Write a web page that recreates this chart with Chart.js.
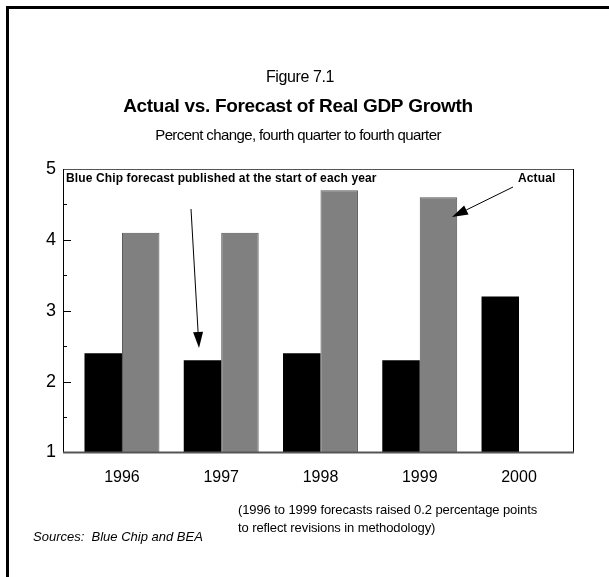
<!DOCTYPE html>
<html>
<head>
<meta charset="utf-8">
<script src="https://cdn.jsdelivr.net/npm/chart.js@4/dist/chart.umd.min.js"></script>
<style>
  html, body { margin: 0; padding: 0; background: #fff; }
  #wrap { position: relative; width: 609px; height: 577px; }
</style>
</head>
<body>
<div id="wrap"><canvas id="c" width="609" height="577"></canvas></div>
<script>
// ---- data ----
const years = [1996, 1997, 1998, 1999, 2000];
const forecast = [2.4, 2.3, 2.4, 2.3, 3.2];   // Blue Chip forecast
const actual = [4.1, 4.1, 4.7, 4.6, null];    // Actual
const yTicks = [1, 2, 3, 4, 5];

const FONT = '"Liberation Sans", Arial, sans-serif';

const decor = {
  id: 'decor',
  afterDraw(chart) {
    const { ctx, chartArea: a, scales } = chart;
    const y = scales.y;
    ctx.save();
    // page frame
    ctx.fillStyle = '#000';
    ctx.fillRect(6, 6, 603, 3);
    ctx.fillRect(6, 6, 3, 571);

    // plot frame
    ctx.lineWidth = 1;
    ctx.strokeStyle = '#555';
    ctx.beginPath();
    ctx.moveTo(a.left, a.top + 0.5); ctx.lineTo(a.right, a.top + 0.5);
    ctx.stroke();
    ctx.strokeStyle = '#000';
    ctx.beginPath();
    ctx.moveTo(a.right - 0.5, a.top); ctx.lineTo(a.right - 0.5, a.bottom);
    ctx.moveTo(a.left + 0.5, a.top); ctx.lineTo(a.left + 0.5, a.bottom);
    ctx.stroke();
    ctx.strokeStyle = '#555';
    ctx.lineWidth = 2;
    ctx.beginPath();
    ctx.moveTo(a.left, a.bottom); ctx.lineTo(a.right, a.bottom);
    ctx.stroke();

    // inner ticks on y axis
    ctx.strokeStyle = '#000';
    ctx.lineWidth = 1;
    ctx.beginPath();
    for (let v = 1.5; v < 5; v += 0.5) {
      const py = Math.round(y.getPixelForValue(v)) + 0.5;
      const len = Number.isInteger(v) ? 8 : 4;
      ctx.moveTo(a.left, py); ctx.lineTo(a.left + len, py);
    }
    ctx.stroke();

    // titles
    ctx.fillStyle = '#000';
    ctx.textAlign = 'center';
    ctx.textBaseline = 'alphabetic';
    ctx.font = '16px ' + FONT;
    ctx.letterSpacing = '-0.4px';
    ctx.fillText('Figure 7.1', 300, 82);
    ctx.font = 'bold 19px ' + FONT;
    ctx.letterSpacing = '-0.3px';
    ctx.fillText('Actual vs. Forecast of Real GDP Growth', 298, 112);
    ctx.font = '15px ' + FONT;
    ctx.letterSpacing = '-0.6px';
    ctx.fillText('Percent change, fourth quarter to fourth quarter', 298, 140);

    // annotations
    ctx.textAlign = 'left';
    ctx.font = 'bold 12px ' + FONT;
    ctx.letterSpacing = '0.12px';
    ctx.fillText('Blue Chip forecast published at the start of each year', 66, 182);
    ctx.fillText('Actual', 518, 182);

    // arrows
    function arrow(x1, y1, x2, y2) {
      const ang = Math.atan2(y2 - y1, x2 - x1);
      const L = 16, W = 5;
      ctx.strokeStyle = '#000';
      ctx.lineWidth = 1;
      ctx.beginPath();
      ctx.moveTo(x1, y1);
      ctx.lineTo(x2 - L * Math.cos(ang), y2 - L * Math.sin(ang));
      ctx.stroke();
      ctx.beginPath();
      ctx.moveTo(x2, y2);
      ctx.lineTo(x2 - L * Math.cos(ang) + W * Math.sin(ang), y2 - L * Math.sin(ang) - W * Math.cos(ang));
      ctx.lineTo(x2 - L * Math.cos(ang) - W * Math.sin(ang), y2 - L * Math.sin(ang) + W * Math.cos(ang));
      ctx.closePath();
      ctx.fill();
    }
    arrow(191, 209, 199, 348);
    arrow(513, 187, 452, 217);

    // notes
    ctx.font = '13px ' + FONT;
    ctx.letterSpacing = '-0.1px';
    ctx.fillText('(1996 to 1999 forecasts raised 0.2 percentage points', 238, 514);
    ctx.fillText('to reflect revisions in methodology)', 238, 532);
    ctx.font = 'italic 13px ' + FONT;
    ctx.letterSpacing = '0px';
    ctx.fillText('Sources:  Blue Chip and BEA', 33, 541);
    ctx.restore();
  }
};

new Chart(document.getElementById('c'), {
  type: 'bar',
  data: {
    datasets: [
      {
        label: 'Blue Chip forecast',
        data: years.map((yr, i) => ({ x: yr, y: forecast[i] })),
        backgroundColor: '#000',
        borderColor: '#000',
        borderWidth: 0
      },
      {
        label: 'Actual',
        data: years.map((yr, i) => ({ x: yr, y: actual[i] })),
        backgroundColor: '#808080',
        borderColor: '#555',
        borderWidth: 1
      }
    ]
  },
  options: {
    responsive: false,
    animation: false,
    layout: { padding: { left: 0, right: 35, top: 169, bottom: 0 } },
    categoryPercentage: 0.755,
    barPercentage: 1.0,
    plugins: { legend: { display: false }, tooltip: { enabled: false } },
    scales: {
      x: {
        type: 'linear',
        offset: false,
        min: 1995.406,
        max: 2000.554,
        afterBuildTicks: s => { s.ticks = years.map(v => ({ value: v })); },
        afterFit: s => { s.height = 577 - 452.5 - 0; },
        grid: { display: false, drawTicks: false, offset: false },
        border: { display: false },
        ticks: {
          padding: 15,
          color: '#000',
          font: { family: FONT, size: 16 },
          callback: v => String(v),
          maxRotation: 0
        }
      },
      y: {
        min: 1,
        max: 5,
        afterBuildTicks: s => { s.ticks = yTicks.map(v => ({ value: v })); },
        afterFit: s => { s.width = 63; },
        grid: { display: false, drawTicks: false },
        border: { display: false },
        ticks: {
          padding: 7,
          color: '#000',
          font: { family: FONT, size: 18 },
          callback: v => String(v)
        }
      }
    }
  },
  plugins: [decor]
});
</script>
</body>
</html>
